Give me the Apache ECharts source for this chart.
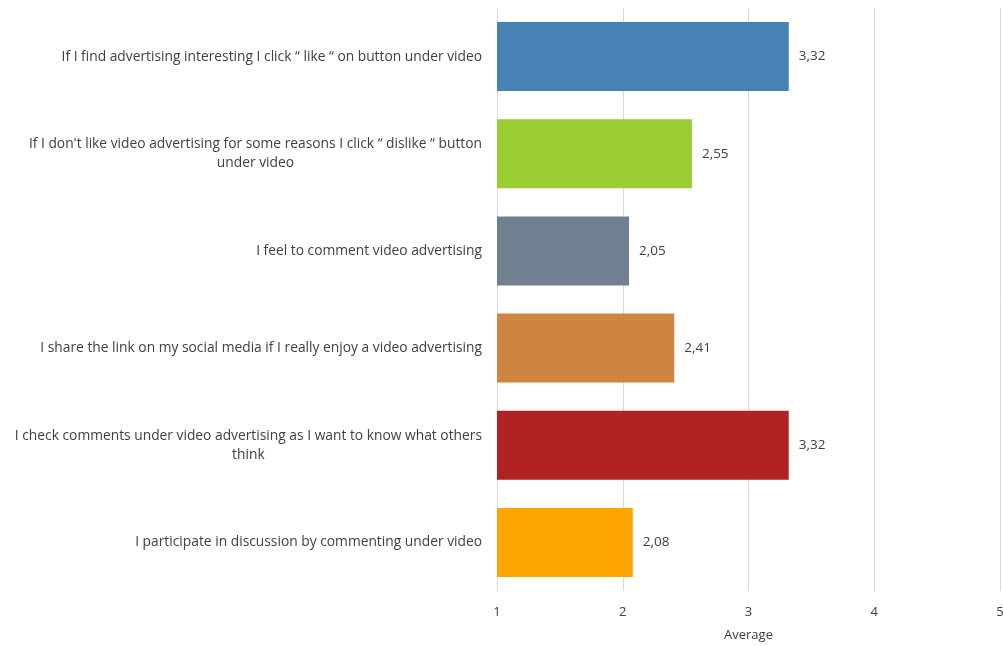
<!DOCTYPE html>
<html>
<head>
<meta charset="utf-8">
<script src="https://cdn.jsdelivr.net/npm/echarts@6/dist/echarts.min.js"></script>
<style>
  html, body { margin: 0; padding: 0; background: #fff; overflow: hidden; }
  #chart { width: 1003px; height: 646px; }
</style>
</head>
<body>
<div id="chart"></div>
<script>
// Survey statements (top to bottom), each line of a wrapped label kept separately
const categories = [
  ['If I find advertising interesting I click \u201c like \u201c on button under video'],
  ['If I don\'t like video advertising for some reasons I click \u201c dislike \u201c button', 'under video'],
  ['I feel to comment video advertising'],
  ['I share the link on my social media if I really enjoy a video advertising'],
  ['I check comments under video advertising as I want to know what others', 'think'],
  ['I participate in discussion by commenting under video']
];
const averages = [3.32, 2.55, 2.05, 2.41, 3.32, 2.08];
const barColors = ['#4682B4', '#9ACD32', '#708090', '#CD853F', '#B22222', '#FFA500'];
const xTicks = [1, 2, 3, 4, 5];

const FONT = '"Open Sans", "Liberation Sans", Arial, sans-serif';
const TEXT = '#404040';
const chart = echarts.init(document.getElementById('chart'), null, { renderer: 'canvas' });

chart.setOption({
  animation: false,
  backgroundColor: '#ffffff',
  grid: { left: 497, right: 3, top: 8, bottom: 55, containLabel: false, outerBoundsMode: 'none' },
  xAxis: {
    type: 'value',
    min: xTicks[0],
    max: xTicks[xTicks.length - 1],
    interval: 1,
    name: 'Average',
    nameLocation: 'middle',
    nameGap: 38,
    nameTextStyle: { color: TEXT, fontSize: 13, fontFamily: FONT },
    axisLine: { show: false },
    axisTick: { show: false },
    axisLabel: { color: TEXT, fontSize: 13, fontFamily: FONT, margin: 15 },
    splitLine: { show: true, lineStyle: { color: '#d9d9d9', width: 1 } }
  },
  yAxis: {
    type: 'category',
    inverse: true,
    data: categories.map((lines, i) => String(i)),
    axisLine: { show: false },
    axisTick: { show: false },
    axisLabel: {
      margin: 15,
      align: 'right',
      formatter: (v) => categories[+v].map(l => '{c|' + l + '}').join('\n'),
      rich: {
        c: { align: 'center', color: TEXT, fontSize: 13.8, fontFamily: FONT, lineHeight: 19 }
      }
    }
  },
  series: [{
    type: 'bar',
    barCategoryGap: '29%',
    data: averages.map((v, i) => ({ value: v, itemStyle: { color: barColors[i] } })),
    label: {
      show: true,
      position: 'right',
      distance: 10,
      color: TEXT,
      fontSize: 13.5,
      fontFamily: FONT,
      formatter: (p) => p.value.toFixed(2).replace('.', ',')
    }
  }]
});
</script>
</body>
</html>
